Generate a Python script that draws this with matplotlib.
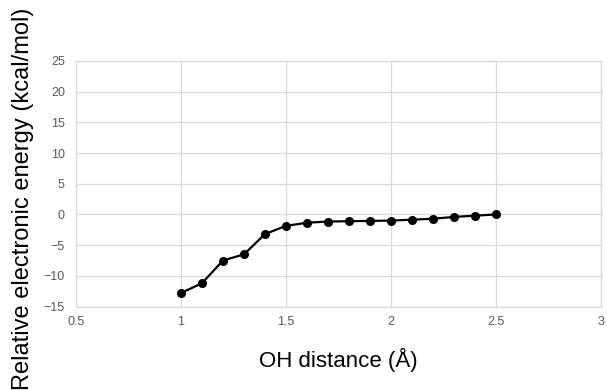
import matplotlib
matplotlib.use('Agg')
import matplotlib.pyplot as plt

# OH scan: relative electronic energy vs O-H distance
oh_distance = [1.0, 1.1, 1.2, 1.3, 1.4, 1.5, 1.6, 1.7, 1.8, 1.9,
               2.0, 2.1, 2.2, 2.3, 2.4, 2.5]
rel_energy = [-12.8, -11.2, -7.5, -6.5, -3.2, -1.85, -1.35, -1.15, -1.1, -1.05,
              -1.0, -0.85, -0.7, -0.4, -0.2, 0.0]

x_ticks = [0.5, 1, 1.5, 2, 2.5, 3]
x_tick_labels = ['0.5', '1', '1.5', '2', '2.5', '3']
y_ticks = [-15, -10, -5, 0, 5, 10, 15, 20, 25]

plt.rcParams['font.family'] = ['Liberation Sans', 'DejaVu Sans']

fig = plt.figure(figsize=(6.07, 3.9), dpi=100)
ax = fig.add_axes([0.1252, 0.214, 0.8648, 0.6296])

ax.plot(oh_distance, rel_energy, color='black', lw=1.6,
        marker='o', markersize=5.5, zorder=3)

ax.set_xlim(0.5, 3)
ax.set_ylim(-15, 25)
ax.set_xticks(x_ticks)
ax.set_xticklabels(x_tick_labels)
ax.set_yticks(y_ticks)
ax.grid(True, color='#d9d9d9', lw=0.9)
ax.set_axisbelow(True)
for side in ax.spines.values():
    side.set_color('#d9d9d9')
    side.set_linewidth(0.9)
ax.tick_params(length=0, labelsize=9, labelcolor='#595959')
ax.tick_params(axis='y', pad=8)
ax.tick_params(axis='x', pad=7)

ax.set_xlabel('OH distance (Å)', fontsize=16, labelpad=14)
fig.text(0.038, 0.491, 'Relative electronic energy (kcal/mol)',
         rotation=90, fontsize=17, ha='center', va='center')

fig.savefig('out.png', dpi=100)
